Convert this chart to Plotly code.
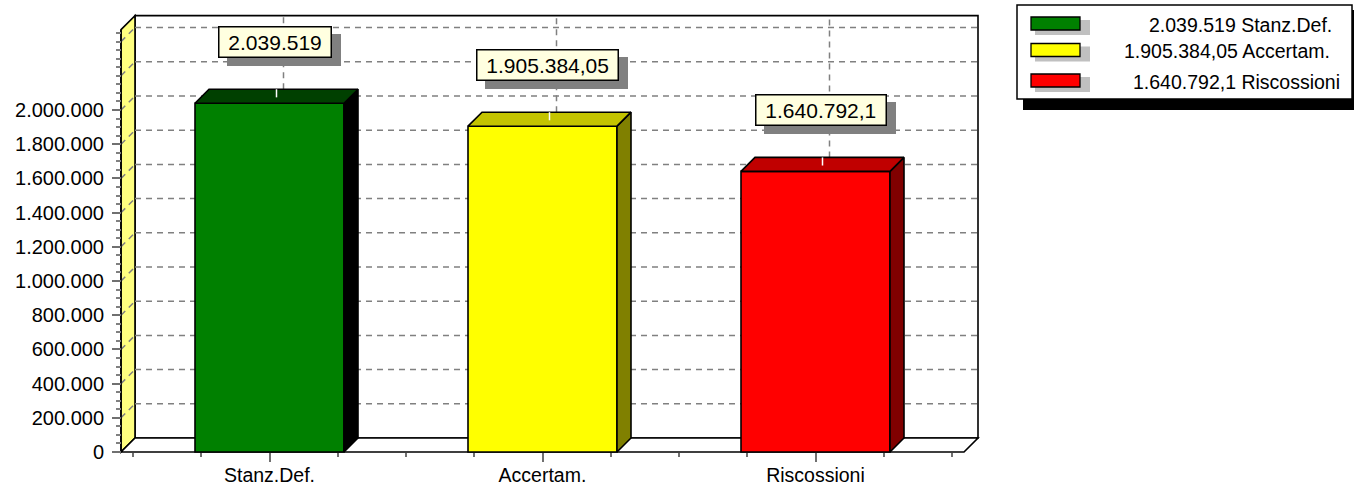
import plotly.graph_objects as go

# ---------------- data ----------------
CATEGORIES = ["Stanz.Def.", "Accertam.", "Riscossioni"]
VALUES = [2039519, 1905384.05, 1640792.1]
FRONT_COLORS = ["#008000", "#FFFF00", "#FF0000"]
TOP_COLORS = ["#004000", "#C4C400", "#C00000"]
SIDE_COLORS = ["#000000", "#808000", "#800000"]
Y_TICKS = [0, 200000, 400000, 600000, 800000, 1000000, 1200000,
           1400000, 1600000, 1800000, 2000000, 2200000, 2400000]
Y_LABELED_MAX = 2000000
Y_MINOR_STEP = 50000
Y_MAX = 2470000


def fmt_it(v):
    s = f"{v:,.2f}".rstrip("0").rstrip(".")
    return s.replace(",", "#").replace(".", ",").replace("#", ".")


def blank_like(s):
    # same advance width in Liberation Sans: digit = 2 nbsp, punctuation = 1 nbsp
    return "".join("\u00a0\u00a0" if c.isdigit() else "\u00a0" for c in s)


# ---------------- geometry (pixels of the 1354x488 page) ----------------
W, H = 1354, 488
X0_PX = 133          # pixel of x = -0.5
CAT_PX = 273         # pixels per category
ZERO_PX = 452        # pixel of value 0 on the front plane
PX_PER_UNIT = 171e-6  # pixels per value unit
DEPTH_PX = 14

XR = [-0.5 - X0_PX / CAT_PX, -0.5 + (W - X0_PX) / CAT_PX]
YR = [-(H - ZERO_PX) / PX_PER_UNIT, ZERO_PX / PX_PER_UNIT]
DX = DEPTH_PX / CAT_PX
DY = DEPTH_PX / PX_PER_UNIT
XPAD = 12 / CAT_PX
XL = -0.5 - XPAD
XRT = len(CATEGORIES) - 0.5 + XPAD
BAR_W = 149 / CAT_PX

GRID = dict(color="#808080", width=1.5, dash="6px,5px")
EDGE = dict(color="black", width=1.6)

fig = go.Figure()
shapes = []

# back wall
shapes.append(dict(type="rect", xref="x", yref="y", x0=XL + DX, x1=XRT + DX,
                   y0=DY, y1=Y_MAX + DY, fillcolor="white", line=EDGE, layer="below"))
# left wall
shapes.append(dict(type="path", xref="x", yref="y",
                   path=f"M{XL},0 L{XL},{Y_MAX} L{XL+DX},{Y_MAX+DY} L{XL+DX},{DY} Z",
                   fillcolor="#FFFF80", line=EDGE, layer="below"))
# floor
shapes.append(dict(type="path", xref="x", yref="y",
                   path=f"M{XL},0 L{XRT},0 L{XRT+DX},{DY} L{XL+DX},{DY} Z",
                   fillcolor="white", line=EDGE, layer="below"))
# gridlines
for v in Y_TICKS[1:]:
    shapes.append(dict(type="line", xref="x", yref="y", x0=XL + DX, x1=XRT + DX,
                       y0=v + DY, y1=v + DY, line=GRID, layer="below"))
    shapes.append(dict(type="line", xref="x", yref="y", x0=XL, x1=XL + DX,
                       y0=v, y1=v + DY, line=GRID, layer="below"))
# leader lines
for i, v in enumerate(VALUES):
    shapes.append(dict(type="line", xref="x", yref="y", x0=i + DX, x1=i + DX,
                       y0=v + DY, y1=Y_MAX + DY, line=GRID, layer="below"))
    shapes.append(dict(type="line", xref="x", yref="y", x0=i + DX / 2, x1=i + DX / 2,
                       y0=v + DY * 0.42, y1=v + DY, line=dict(color="white", width=1.5),
                       layer="above"))
# front y-axis line
shapes.append(dict(type="line", xref="x", yref="y", x0=XL, x1=XL, y0=0, y1=Y_MAX,
                   line=EDGE, layer="below"))

# bars: front faces
fig.add_trace(go.Bar(x=list(range(len(CATEGORIES))), y=VALUES, width=BAR_W,
                     marker=dict(color=FRONT_COLORS, line=dict(color="black", width=1.6)),
                     hoverinfo="skip"))
# top and side faces
for i, v in enumerate(VALUES):
    x0, x1 = i - BAR_W / 2, i + BAR_W / 2
    fig.add_trace(go.Scatter(x=[x1, x1 + DX, x1 + DX, x1, x1], y=[0, DY, v + DY, v, 0],
                             mode="lines", fill="toself", fillcolor=SIDE_COLORS[i],
                             line=dict(color="black", width=1.6), hoverinfo="skip"))
    fig.add_trace(go.Scatter(x=[x0, x1, x1 + DX, x0 + DX, x0], y=[v, v, v + DY, v + DY, v],
                             mode="lines", fill="toself", fillcolor=TOP_COLORS[i],
                             line=dict(color="black", width=1.6), hoverinfo="skip"))

FONT = "Liberation Sans, Arial, sans-serif"
annotations = []
NB = "\u00a0"
for i, v in enumerate(VALUES):
    label = fmt_it(v)
    t = NB + label + NB
    # drop shadow (blank text of the same width)
    annotations.append(dict(x=i, y=v + DY, xref="x", yref="y", text=NB + blank_like(label) + NB,
                            showarrow=False, xshift=5 + 9, yshift=47 - 8,
                            font=dict(family=FONT, size=21, color="#808080"),
                            bgcolor="#808080", bordercolor="#808080", borderwidth=1.5,
                            borderpad=3))
    annotations.append(dict(x=i, y=v + DY, xref="x", yref="y", text=t, showarrow=False,
                            xshift=5, yshift=47,
                            font=dict(family=FONT, size=21, color="black"),
                            bgcolor="#FFFFE0", bordercolor="black", borderwidth=1.5,
                            borderpad=3))


# ---------------- legend (paper pixels) ----------------
def px(p):
    return p / W


def py(p):
    return 1 - p / H


shapes.append(dict(type="rect", xref="paper", yref="paper", x0=px(1023), x1=px(1360),
                   y0=py(110), y1=py(10), fillcolor="black", line=dict(width=0), layer="above"))
shapes.append(dict(type="rect", xref="paper", yref="paper", x0=px(1017), x1=px(1352),
                   y0=py(99), y1=py(5), fillcolor="white", line=dict(color="black", width=1.5),
                   layer="above"))
ROW_PX = [23.5, 50, 80.5]
TEXT_RIGHT_PX = [1334, 1332, 1342]
for i, v in enumerate(VALUES):
    r = ROW_PX[i]
    shapes.append(dict(type="rect", xref="paper", yref="paper", x0=px(1035), x1=px(1090),
                       y0=py(r + 11.5), y1=py(r - 3.5), fillcolor="#C0C0C0",
                       line=dict(width=0), layer="above"))
    shapes.append(dict(type="rect", xref="paper", yref="paper", x0=px(1031), x1=px(1080),
                       y0=py(r + 6.5), y1=py(r - 6.5), fillcolor=FRONT_COLORS[i],
                       line=dict(color="black", width=1.3), layer="above"))
    annotations.append(dict(x=px(TEXT_RIGHT_PX[i]), y=py(r + 1), xref="paper", yref="paper",
                            xanchor="right", yanchor="middle", showarrow=False,
                            text=f"{fmt_it(v)} {CATEGORIES[i]}",
                            font=dict(family=FONT, size=19.5, color="black")))

y_text = [fmt_it(v) if v <= Y_LABELED_MAX else "" for v in Y_TICKS]
y_minor = list(range(0, int(Y_MAX), Y_MINOR_STEP))
x_minor = [k * 0.25 - 0.5 for k in range(4 * len(CATEGORIES) + 1)]

fig.update_layout(
    width=W, height=H, margin=dict(l=0, r=0, t=0, b=0, autoexpand=False),
    paper_bgcolor="white", plot_bgcolor="white", showlegend=False,
    shapes=shapes, annotations=annotations, barmode="overlay",
    xaxis=dict(range=XR, domain=[0, 1], anchor="free", position=(H - ZERO_PX) / H,
               showgrid=False, zeroline=False, showline=False,
               tickmode="array", tickvals=list(range(len(CATEGORIES))), ticktext=CATEGORIES,
               ticks="outside", ticklen=9, tickwidth=1.5, tickcolor="#707070",
               minor=dict(tickvals=x_minor, ticks="outside", ticklen=4, tickwidth=1.5,
                          tickcolor="#707070"),
               ticklabelstandoff=-3,
               tickfont=dict(family=FONT, size=19.5, color="black"), automargin=False,
               fixedrange=True),
    yaxis=dict(range=YR, domain=[0, 1], anchor="free", position=(X0_PX + (XL + 0.5) * CAT_PX) / W,
               showgrid=False, zeroline=False, showline=False,
               tickmode="array", tickvals=Y_TICKS, ticktext=y_text,
               ticks="outside", ticklen=9, tickwidth=2, tickcolor="#707070",
               minor=dict(tickvals=y_minor, ticks="outside", ticklen=5, tickwidth=2,
                          tickcolor="#808080"),
               ticklabelstandoff=4,
               tickfont=dict(family=FONT, size=20, color="black"), automargin=False,
               fixedrange=True),
)

fig.write_html("out.html", config={"displayModeBar": False},
               post_script="document.body.style.margin='0';document.body.style.overflow='hidden';")
